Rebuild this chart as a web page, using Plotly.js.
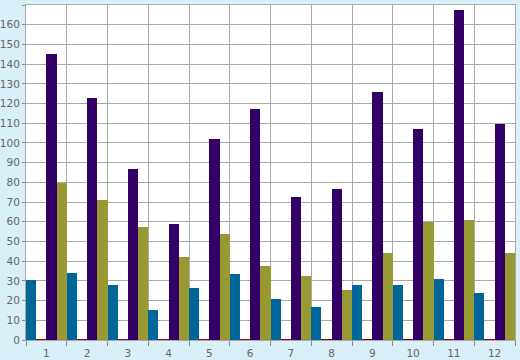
<!DOCTYPE html>
<html>
<head>
<meta charset="utf-8">
<script src="https://cdn.plot.ly/plotly-3.0.1.min.js"></script>
<style>html,body{margin:0;padding:0;background:#d9f0f8;}#chart{width:520px;height:360px;}</style>
</head>
<body>
<div id="chart"></div>
<script>
var categories = ["1","2","3","4","5","6","7","8","9","10","11","12"];
var seriesBlue = [30.5, 34, 28, 15.3, 26.4, 33.5, 20.8, 16.7, 28, 28, 31, 24];
var seriesRed = [0.5, 0.5, 0.5, 0.5, 0.5, 0.5, 0.5, 0.5, 0.5, 0.5, 0.5, 0.5];
var seriesPurple = [145, 122.7, 86.8, 58.9, 102, 117.2, 72.6, 76.6, 125.8, 107, 167.5, 109.6];
var seriesOlive = [79.7, 71, 57.2, 42.1, 53.8, 37.6, 32.5, 25.4, 44.2, 59.9, 60.9, 44.2];

var colors = ["#006699", "#990000", "#330066", "#999933"];
var all = [seriesBlue, seriesRed, seriesPurple, seriesOlive];
var traces = all.map(function(vals, i){
  return {type:"bar", x:categories, y:vals, marker:{color:colors[i], line:{width:0}}, hoverinfo:"none"};
});
var layout = {
  width:520, height:360,
  margin:{l:26, r:5, t:5, b:20, pad:0},
  paper_bgcolor:"#d9f0f8", plot_bgcolor:"#ffffff",
  showlegend:false, barmode:"group", bargap:0, bargroupgap:0,
  font:{family:"DejaVu Sans", size:10.5, color:"#666666"},
  xaxis:{type:"category", tickson:"boundaries", ticks:"outside", ticklen:5, tickcolor:"#888888",
         ticklabelstandoff:3,
         showgrid:true, gridcolor:"#aaaaaa", gridwidth:1, showline:true, linecolor:"#aaaaaa", mirror:true,
         range:[-0.5, 11.5], zeroline:false, fixedrange:true},
  yaxis:{range:[0,170], dtick:10, ticks:"outside", ticklen:3, tickcolor:"#888888",
         ticklabelstandoff:0,
         showgrid:true, gridcolor:"#aaaaaa", gridwidth:1, showline:true, linecolor:"#aaaaaa", mirror:true,
         zeroline:false, fixedrange:true}
};
Plotly.newPlot("chart", traces, layout, {displayModeBar:false, staticPlot:true});
</script>
</body>
</html>
